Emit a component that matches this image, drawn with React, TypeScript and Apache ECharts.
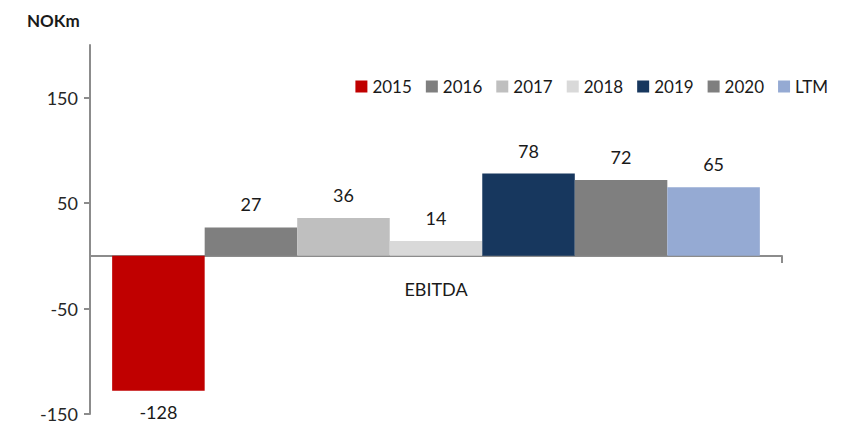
import React, { useEffect, useRef } from "react";
import * as echarts from "echarts";

const categories = ["EBITDA"];
const seriesNames = ["2015", "2016", "2017", "2018", "2019", "2020", "LTM"];
const seriesValues = [-128, 27, 36, 14, 78, 72, 65];
const seriesColors = ["#C00000", "#7F7F7F", "#BFBFBF", "#D9D9D9", "#17375E", "#7F7F7F", "#95AAD3"];
const yTicks = [-150, -50, 50, 150];
const yMin = -150;
const yMax = 200;

export default function App() {
  const ref = useRef<HTMLDivElement>(null);
  useEffect(() => {
    document.body.style.margin = "0";
    const chart = echarts.init(ref.current!, null, { renderer: "svg" });
    const font = "Lato, 'Noto Sans', sans-serif";
    const gridTop = 45;
    const gridBottom = 16;
    const plotH = 430 - gridTop - gridBottom;
    const zeroOffset = -Math.round(((0 - yMin) / (yMax - yMin)) * plotH);
    chart.setOption({
      animation: false,
      textStyle: { fontFamily: font },
      title: {
        text: "NOKm",
        left: 22,
        top: 7,
        textStyle: { fontFamily: font, fontSize: 17, fontWeight: "bold", color: "#1a1a1a" },
      },
      legend: {
        data: seriesNames,
        right: 20,
        top: 73,
        icon: "rect",
        itemWidth: 12,
        itemHeight: 12,
        itemGap: 14,
        textStyle: { fontFamily: font, fontSize: 17, color: "#1a1a1a" },
      },
      grid: { left: 90, right: 71, top: gridTop, bottom: gridBottom, containLabel: false, outerBoundsMode: "none" },
      xAxis: {
        type: "category",
        data: categories,
        position: "bottom",
        offset: zeroOffset,
        axisLine: { show: true, onZero: false, lineStyle: { color: "#8c8c8c", width: 2 } },
        axisTick: { show: true, length: 7, lineStyle: { color: "#8c8c8c", width: 2 } },
        axisLabel: { margin: 24, fontSize: 18, color: "#1a1a1a", fontFamily: font },
        splitLine: { show: false },
      },
      yAxis: {
        type: "value",
        min: yMin,
        max: yMax,
        splitLine: { show: false },
        axisLine: { show: true, lineStyle: { color: "#8c8c8c", width: 2 } },
        axisTick: { show: true, length: 6, customValues: yTicks, lineStyle: { color: "#8c8c8c", width: 2 } },
        axisLabel: { customValues: yTicks, fontSize: 18, color: "#262626", margin: 12, fontFamily: font },
      },
      series: seriesNames.map((name, i) => ({
        name,
        type: "bar",
        data: [seriesValues[i]],
        barGap: "0%",
        barCategoryGap: "6.4%",
        itemStyle: { color: seriesColors[i] },
        label: {
          show: true,
          position: seriesValues[i] < 0 ? "bottom" : "top",
          distance: seriesValues[i] < 0 ? 12 : 14,
          fontSize: 18,
          color: "#1a1a1a",
          fontFamily: font,
        },
      })),
    });
    return () => chart.dispose();
  }, []);
  return <div ref={ref} style={{ width: 853, height: 430 }} />;
}
